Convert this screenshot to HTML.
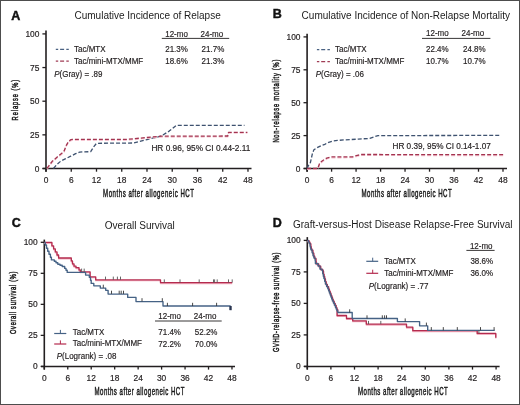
<!DOCTYPE html>
<html><head><meta charset="utf-8"><style>
html,body{margin:0;padding:0;background:#fff;}
body{width:520px;height:405px;overflow:hidden;font-family:"Liberation Sans", sans-serif;}
svg{display:block;will-change:transform;}
</style></head><body>
<svg width="520" height="405" viewBox="0 0 520 405" font-family='"Liberation Sans", sans-serif'>
<rect x="0" y="0" width="520" height="405" fill="#fff"/>
<rect x="0.5" y="0.5" width="519" height="404" fill="none" stroke="#4d4d4d" stroke-width="1"/>
<text transform="translate(11.20,20.30)" x="0" y="0" font-size="12.5" text-anchor="start" fill="#111" font-weight="bold"  stroke="#111" stroke-width="0.45">A</text>
<text transform="translate(74.50,18.80)" x="0" y="0" font-size="10" text-anchor="start" fill="#1c1c1c" font-weight="normal"  >Cumulative Incidence of Relapse</text>
<line x1="46.0" y1="30.4" x2="46.0" y2="171.7" stroke="#231f20" stroke-width="1.6"/>
<line x1="42.6" y1="168.5" x2="251.5" y2="168.5" stroke="#231f20" stroke-width="1.5"/>
<line x1="42.4" y1="168.50" x2="46.0" y2="168.50" stroke="#231f20" stroke-width="1.3"/>
<text transform="translate(39.40,171.50)" x="0" y="0" font-size="8.4" text-anchor="end" fill="#231f20" font-weight="normal" stroke="#231f20" stroke-width="0.18"  >0</text>
<line x1="42.4" y1="134.85" x2="46.0" y2="134.85" stroke="#231f20" stroke-width="1.3"/>
<text transform="translate(39.40,137.85)" x="0" y="0" font-size="8.4" text-anchor="end" fill="#231f20" font-weight="normal" stroke="#231f20" stroke-width="0.18"  >25</text>
<line x1="42.4" y1="101.20" x2="46.0" y2="101.20" stroke="#231f20" stroke-width="1.3"/>
<text transform="translate(39.40,104.20)" x="0" y="0" font-size="8.4" text-anchor="end" fill="#231f20" font-weight="normal" stroke="#231f20" stroke-width="0.18"  >50</text>
<line x1="42.4" y1="67.55" x2="46.0" y2="67.55" stroke="#231f20" stroke-width="1.3"/>
<text transform="translate(39.40,70.55)" x="0" y="0" font-size="8.4" text-anchor="end" fill="#231f20" font-weight="normal" stroke="#231f20" stroke-width="0.18"  >75</text>
<line x1="42.4" y1="33.90" x2="46.0" y2="33.90" stroke="#231f20" stroke-width="1.3"/>
<text transform="translate(39.40,36.90)" x="0" y="0" font-size="8.4" text-anchor="end" fill="#231f20" font-weight="normal" stroke="#231f20" stroke-width="0.18"  >100</text>
<line x1="46.00" y1="168.5" x2="46.00" y2="171.7" stroke="#231f20" stroke-width="1.3"/>
<text transform="translate(46.00,183.00)" x="0" y="0" font-size="8.4" text-anchor="middle" fill="#231f20" font-weight="normal" stroke="#231f20" stroke-width="0.18"  >0</text>
<line x1="71.25" y1="168.5" x2="71.25" y2="171.7" stroke="#231f20" stroke-width="1.3"/>
<text transform="translate(71.25,183.00)" x="0" y="0" font-size="8.4" text-anchor="middle" fill="#231f20" font-weight="normal" stroke="#231f20" stroke-width="0.18"  >6</text>
<line x1="96.50" y1="168.5" x2="96.50" y2="171.7" stroke="#231f20" stroke-width="1.3"/>
<text transform="translate(96.50,183.00)" x="0" y="0" font-size="8.4" text-anchor="middle" fill="#231f20" font-weight="normal" stroke="#231f20" stroke-width="0.18"  >12</text>
<line x1="121.74" y1="168.5" x2="121.74" y2="171.7" stroke="#231f20" stroke-width="1.3"/>
<text transform="translate(121.74,183.00)" x="0" y="0" font-size="8.4" text-anchor="middle" fill="#231f20" font-weight="normal" stroke="#231f20" stroke-width="0.18"  >18</text>
<line x1="146.99" y1="168.5" x2="146.99" y2="171.7" stroke="#231f20" stroke-width="1.3"/>
<text transform="translate(146.99,183.00)" x="0" y="0" font-size="8.4" text-anchor="middle" fill="#231f20" font-weight="normal" stroke="#231f20" stroke-width="0.18"  >24</text>
<line x1="172.24" y1="168.5" x2="172.24" y2="171.7" stroke="#231f20" stroke-width="1.3"/>
<text transform="translate(172.24,183.00)" x="0" y="0" font-size="8.4" text-anchor="middle" fill="#231f20" font-weight="normal" stroke="#231f20" stroke-width="0.18"  >30</text>
<line x1="197.49" y1="168.5" x2="197.49" y2="171.7" stroke="#231f20" stroke-width="1.3"/>
<text transform="translate(197.49,183.00)" x="0" y="0" font-size="8.4" text-anchor="middle" fill="#231f20" font-weight="normal" stroke="#231f20" stroke-width="0.18"  >36</text>
<line x1="222.74" y1="168.5" x2="222.74" y2="171.7" stroke="#231f20" stroke-width="1.3"/>
<text transform="translate(222.74,183.00)" x="0" y="0" font-size="8.4" text-anchor="middle" fill="#231f20" font-weight="normal" stroke="#231f20" stroke-width="0.18"  >42</text>
<line x1="247.98" y1="168.5" x2="247.98" y2="171.7" stroke="#231f20" stroke-width="1.3"/>
<text transform="translate(247.98,183.00)" x="0" y="0" font-size="8.4" text-anchor="middle" fill="#231f20" font-weight="normal" stroke="#231f20" stroke-width="0.18"  >48</text>
<text transform="translate(103.1,197.3) scale(0.58,1)" x="0" y="0" font-size="10.5" fill="#1a1a1a" stroke="#1a1a1a" stroke-width="0.48" textLength="156.72" lengthAdjust="spacing">Months after allogeneic HCT</text>
<text transform="translate(18.4,120.4) rotate(-90) scale(0.58,1)" x="0" y="0" font-size="9.9" fill="#1a1a1a" stroke="#1a1a1a" stroke-width="0.5" textLength="70.00" lengthAdjust="spacing">Relapse (%)</text>
<line x1="55.8" y1="49.3" x2="68.8" y2="49.3" stroke="#4a6282" stroke-width="1.2" stroke-dasharray="2.4 1.9 4 2.2 2.5"/>
<line x1="55.8" y1="61.2" x2="68.8" y2="61.2" stroke="#a03c55" stroke-width="1.2" stroke-dasharray="2.4 1.9 4 2.2 2.5"/>
<text transform="translate(74.00,51.60) scale(0.9195,1)" x="0" y="0" font-size="8.7" text-anchor="start" fill="#231f20" font-weight="normal" stroke="#231f20" stroke-width="0.18"  >Tac/MTX</text>
<text transform="translate(74.00,63.50) scale(0.9195,1)" x="0" y="0" font-size="8.7" text-anchor="start" fill="#231f20" font-weight="normal" stroke="#231f20" stroke-width="0.18"  >Tac/mini-MTX/MMF</text>
<text transform="translate(54.20,76.50) scale(0.9195,1)" x="0" y="0" font-size="8.7" text-anchor="start" fill="#231f20" font-weight="normal" stroke="#231f20" stroke-width="0.18"  ><tspan font-style="italic">P</tspan>(Gray) = .89</text>
<text transform="translate(165.20,36.80) scale(0.9195,1)" x="0" y="0" font-size="8.7" text-anchor="start" fill="#231f20" font-weight="normal" stroke="#231f20" stroke-width="0.18"  >12-mo</text>
<text transform="translate(200.50,36.80) scale(0.9195,1)" x="0" y="0" font-size="8.7" text-anchor="start" fill="#231f20" font-weight="normal" stroke="#231f20" stroke-width="0.18"  >24-mo</text>
<line x1="161.8" y1="38.4" x2="229.2" y2="38.4" stroke="#231f20" stroke-width="0.9"/>
<text transform="translate(165.20,51.80) scale(0.9195,1)" x="0" y="0" font-size="8.7" text-anchor="start" fill="#231f20" font-weight="normal" stroke="#231f20" stroke-width="0.18"  >21.3%</text>
<text transform="translate(201.60,51.80) scale(0.9195,1)" x="0" y="0" font-size="8.7" text-anchor="start" fill="#231f20" font-weight="normal" stroke="#231f20" stroke-width="0.18"  >21.7%</text>
<text transform="translate(165.20,63.50) scale(0.9195,1)" x="0" y="0" font-size="8.7" text-anchor="start" fill="#231f20" font-weight="normal" stroke="#231f20" stroke-width="0.18"  >18.6%</text>
<text transform="translate(201.60,63.50) scale(0.9195,1)" x="0" y="0" font-size="8.7" text-anchor="start" fill="#231f20" font-weight="normal" stroke="#231f20" stroke-width="0.18"  >21.3%</text>
<text transform="translate(250.40,151.30) scale(0.9540,1)" x="0" y="0" font-size="8.7" text-anchor="end" fill="#231f20" font-weight="normal" stroke="#231f20" stroke-width="0.18"  >HR 0.96, 95% CI 0.44-2.11</text>
<polyline points="53.50,168.50 56.80,164.60 60.80,161.10 65.70,158.70 70.70,156.20 75.60,153.70 79.60,152.20 83.50,151.80 90.70,151.70 93.40,147.20 96.20,143.70 98.00,143.30 133.80,143.00 147.00,139.60 161.10,136.10 169.20,131.10 176.30,125.40 244.50,125.40" fill="none" stroke="#3e5270" stroke-width="1.3" stroke-dasharray="4 2" stroke-linejoin="round"/>
<polyline transform="translate(0,0.9)" points="47.00,168.30 52.00,161.60 57.50,156.70 61.50,153.60 64.20,150.80 66.30,145.30 68.50,141.50 71.00,139.60 72.50,139.40 126.00,139.40 161.10,136.20 227.70,136.00 228.50,132.30 247.40,132.30" fill="none" stroke="#f5c4d0" stroke-width="1.3" stroke-dasharray="4 2" stroke-linejoin="round"/>
<polyline points="47.00,168.30 52.00,161.60 57.50,156.70 61.50,153.60 64.20,150.80 66.30,145.30 68.50,141.50 71.00,139.60 72.50,139.40 126.00,139.40 161.10,136.20 227.70,136.00 228.50,132.30 247.40,132.30" fill="none" stroke="#a33450" stroke-width="1.3" stroke-dasharray="4 2" stroke-linejoin="round"/>
<text transform="translate(272.70,18.10)" x="0" y="0" font-size="12.5" text-anchor="start" fill="#111" font-weight="bold"  stroke="#111" stroke-width="0.45">B</text>
<text transform="translate(301.60,18.80)" x="0" y="0" font-size="10" text-anchor="start" fill="#1c1c1c" font-weight="normal"  >Cumulative Incidence of Non-Relapse Mortality</text>
<line x1="307.1" y1="33.8" x2="307.1" y2="171.7" stroke="#231f20" stroke-width="1.6"/>
<line x1="303.70000000000005" y1="168.5" x2="507.0" y2="168.5" stroke="#231f20" stroke-width="1.5"/>
<line x1="303.5" y1="168.50" x2="307.1" y2="168.50" stroke="#231f20" stroke-width="1.3"/>
<text transform="translate(300.50,171.50)" x="0" y="0" font-size="8.4" text-anchor="end" fill="#231f20" font-weight="normal" stroke="#231f20" stroke-width="0.18"  >0</text>
<line x1="303.5" y1="135.60" x2="307.1" y2="135.60" stroke="#231f20" stroke-width="1.3"/>
<text transform="translate(300.50,138.60)" x="0" y="0" font-size="8.4" text-anchor="end" fill="#231f20" font-weight="normal" stroke="#231f20" stroke-width="0.18"  >25</text>
<line x1="303.5" y1="102.70" x2="307.1" y2="102.70" stroke="#231f20" stroke-width="1.3"/>
<text transform="translate(300.50,105.70)" x="0" y="0" font-size="8.4" text-anchor="end" fill="#231f20" font-weight="normal" stroke="#231f20" stroke-width="0.18"  >50</text>
<line x1="303.5" y1="69.80" x2="307.1" y2="69.80" stroke="#231f20" stroke-width="1.3"/>
<text transform="translate(300.50,72.80)" x="0" y="0" font-size="8.4" text-anchor="end" fill="#231f20" font-weight="normal" stroke="#231f20" stroke-width="0.18"  >75</text>
<line x1="303.5" y1="36.90" x2="307.1" y2="36.90" stroke="#231f20" stroke-width="1.3"/>
<text transform="translate(300.50,39.90)" x="0" y="0" font-size="8.4" text-anchor="end" fill="#231f20" font-weight="normal" stroke="#231f20" stroke-width="0.18"  >100</text>
<line x1="307.10" y1="168.5" x2="307.10" y2="171.7" stroke="#231f20" stroke-width="1.3"/>
<text transform="translate(307.10,182.80)" x="0" y="0" font-size="8.4" text-anchor="middle" fill="#231f20" font-weight="normal" stroke="#231f20" stroke-width="0.18"  >0</text>
<line x1="331.59" y1="168.5" x2="331.59" y2="171.7" stroke="#231f20" stroke-width="1.3"/>
<text transform="translate(331.59,182.80)" x="0" y="0" font-size="8.4" text-anchor="middle" fill="#231f20" font-weight="normal" stroke="#231f20" stroke-width="0.18"  >6</text>
<line x1="356.07" y1="168.5" x2="356.07" y2="171.7" stroke="#231f20" stroke-width="1.3"/>
<text transform="translate(356.07,182.80)" x="0" y="0" font-size="8.4" text-anchor="middle" fill="#231f20" font-weight="normal" stroke="#231f20" stroke-width="0.18"  >12</text>
<line x1="380.56" y1="168.5" x2="380.56" y2="171.7" stroke="#231f20" stroke-width="1.3"/>
<text transform="translate(380.56,182.80)" x="0" y="0" font-size="8.4" text-anchor="middle" fill="#231f20" font-weight="normal" stroke="#231f20" stroke-width="0.18"  >18</text>
<line x1="405.04" y1="168.5" x2="405.04" y2="171.7" stroke="#231f20" stroke-width="1.3"/>
<text transform="translate(405.04,182.80)" x="0" y="0" font-size="8.4" text-anchor="middle" fill="#231f20" font-weight="normal" stroke="#231f20" stroke-width="0.18"  >24</text>
<line x1="429.53" y1="168.5" x2="429.53" y2="171.7" stroke="#231f20" stroke-width="1.3"/>
<text transform="translate(429.53,182.80)" x="0" y="0" font-size="8.4" text-anchor="middle" fill="#231f20" font-weight="normal" stroke="#231f20" stroke-width="0.18"  >30</text>
<line x1="454.02" y1="168.5" x2="454.02" y2="171.7" stroke="#231f20" stroke-width="1.3"/>
<text transform="translate(454.02,182.80)" x="0" y="0" font-size="8.4" text-anchor="middle" fill="#231f20" font-weight="normal" stroke="#231f20" stroke-width="0.18"  >36</text>
<line x1="478.50" y1="168.5" x2="478.50" y2="171.7" stroke="#231f20" stroke-width="1.3"/>
<text transform="translate(478.50,182.80)" x="0" y="0" font-size="8.4" text-anchor="middle" fill="#231f20" font-weight="normal" stroke="#231f20" stroke-width="0.18"  >42</text>
<line x1="502.99" y1="168.5" x2="502.99" y2="171.7" stroke="#231f20" stroke-width="1.3"/>
<text transform="translate(502.99,182.80)" x="0" y="0" font-size="8.4" text-anchor="middle" fill="#231f20" font-weight="normal" stroke="#231f20" stroke-width="0.18"  >48</text>
<text transform="translate(361.5,197.3) scale(0.58,1)" x="0" y="0" font-size="10.5" fill="#1a1a1a" stroke="#1a1a1a" stroke-width="0.48" textLength="155.52" lengthAdjust="spacing">Months after allogeneic HCT</text>
<text transform="translate(279.2,142.6) rotate(-90) scale(0.58,1)" x="0" y="0" font-size="9.9" fill="#1a1a1a" stroke="#1a1a1a" stroke-width="0.5" textLength="142.93" lengthAdjust="spacing">Non-relapse mortality (%)</text>
<line x1="316.9" y1="49.6" x2="329.9" y2="49.6" stroke="#4a6282" stroke-width="1.2" stroke-dasharray="2.4 1.9 4 2.2 2.5"/>
<line x1="316.9" y1="61.6" x2="329.9" y2="61.6" stroke="#a03c55" stroke-width="1.2" stroke-dasharray="2.4 1.9 4 2.2 2.5"/>
<text transform="translate(335.10,51.90) scale(0.9195,1)" x="0" y="0" font-size="8.7" text-anchor="start" fill="#231f20" font-weight="normal" stroke="#231f20" stroke-width="0.18"  >Tac/MTX</text>
<text transform="translate(335.10,63.90) scale(0.9195,1)" x="0" y="0" font-size="8.7" text-anchor="start" fill="#231f20" font-weight="normal" stroke="#231f20" stroke-width="0.18"  >Tac/mini-MTX/MMF</text>
<text transform="translate(315.70,76.60) scale(0.9195,1)" x="0" y="0" font-size="8.7" text-anchor="start" fill="#231f20" font-weight="normal" stroke="#231f20" stroke-width="0.18"  ><tspan font-style="italic">P</tspan>(Gray) = .06</text>
<text transform="translate(426.00,36.30) scale(0.9195,1)" x="0" y="0" font-size="8.7" text-anchor="start" fill="#231f20" font-weight="normal" stroke="#231f20" stroke-width="0.18"  >12-mo</text>
<text transform="translate(461.50,36.30) scale(0.9195,1)" x="0" y="0" font-size="8.7" text-anchor="start" fill="#231f20" font-weight="normal" stroke="#231f20" stroke-width="0.18"  >24-mo</text>
<line x1="422" y1="38.4" x2="490.4" y2="38.4" stroke="#231f20" stroke-width="0.9"/>
<text transform="translate(426.00,51.70) scale(0.9195,1)" x="0" y="0" font-size="8.7" text-anchor="start" fill="#231f20" font-weight="normal" stroke="#231f20" stroke-width="0.18"  >22.4%</text>
<text transform="translate(463.00,51.70) scale(0.9195,1)" x="0" y="0" font-size="8.7" text-anchor="start" fill="#231f20" font-weight="normal" stroke="#231f20" stroke-width="0.18"  >24.8%</text>
<text transform="translate(426.00,63.80) scale(0.9195,1)" x="0" y="0" font-size="8.7" text-anchor="start" fill="#231f20" font-weight="normal" stroke="#231f20" stroke-width="0.18"  >10.7%</text>
<text transform="translate(463.00,63.80) scale(0.9195,1)" x="0" y="0" font-size="8.7" text-anchor="start" fill="#231f20" font-weight="normal" stroke="#231f20" stroke-width="0.18"  >10.7%</text>
<text transform="translate(490.80,149.10) scale(0.9425,1)" x="0" y="0" font-size="8.7" text-anchor="end" fill="#231f20" font-weight="normal" stroke="#231f20" stroke-width="0.18"  >HR 0.39, 95% CI 0.14-1.07</text>
<polyline points="307.10,168.50 308.50,165.50 310.40,162.60 312.40,153.70 313.90,149.80 316.90,147.80 320.80,145.80 324.80,144.30 328.70,142.30 332.70,141.10 337.60,140.40 344.50,139.90 358.30,139.10 369.80,138.40 375.10,136.50 378.00,135.60 500.60,135.40" fill="none" stroke="#3e5270" stroke-width="1.3" stroke-dasharray="4 2" stroke-linejoin="round"/>
<polyline transform="translate(0,0.9)" points="307.10,168.50 317.80,168.50 319.80,162.80 322.80,160.50 326.70,158.10 330.70,156.90 352.50,156.80 357.30,155.40 361.60,154.50 503.90,154.70" fill="none" stroke="#f5c4d0" stroke-width="1.3" stroke-dasharray="4 2" stroke-linejoin="round"/>
<polyline points="307.10,168.50 317.80,168.50 319.80,162.80 322.80,160.50 326.70,158.10 330.70,156.90 352.50,156.80 357.30,155.40 361.60,154.50 503.90,154.70" fill="none" stroke="#a33450" stroke-width="1.3" stroke-dasharray="4 2" stroke-linejoin="round"/>
<text transform="translate(11.70,227.40)" x="0" y="0" font-size="12.5" text-anchor="start" fill="#111" font-weight="bold"  stroke="#111" stroke-width="0.45">C</text>
<text transform="translate(104.80,228.50)" x="0" y="0" font-size="10" text-anchor="start" fill="#1c1c1c" font-weight="normal"  >Overall Survival</text>
<line x1="44.3" y1="239.6" x2="44.3" y2="369.59999999999997" stroke="#231f20" stroke-width="1.6"/>
<line x1="40.9" y1="366.4" x2="235.0" y2="366.4" stroke="#231f20" stroke-width="1.5"/>
<line x1="40.699999999999996" y1="366.40" x2="44.3" y2="366.40" stroke="#231f20" stroke-width="1.3"/>
<text transform="translate(37.70,369.40)" x="0" y="0" font-size="8.4" text-anchor="end" fill="#231f20" font-weight="normal" stroke="#231f20" stroke-width="0.18"  >0</text>
<line x1="40.699999999999996" y1="335.38" x2="44.3" y2="335.38" stroke="#231f20" stroke-width="1.3"/>
<text transform="translate(37.70,338.38)" x="0" y="0" font-size="8.4" text-anchor="end" fill="#231f20" font-weight="normal" stroke="#231f20" stroke-width="0.18"  >25</text>
<line x1="40.699999999999996" y1="304.35" x2="44.3" y2="304.35" stroke="#231f20" stroke-width="1.3"/>
<text transform="translate(37.70,307.35)" x="0" y="0" font-size="8.4" text-anchor="end" fill="#231f20" font-weight="normal" stroke="#231f20" stroke-width="0.18"  >50</text>
<line x1="40.699999999999996" y1="273.32" x2="44.3" y2="273.32" stroke="#231f20" stroke-width="1.3"/>
<text transform="translate(37.70,276.32)" x="0" y="0" font-size="8.4" text-anchor="end" fill="#231f20" font-weight="normal" stroke="#231f20" stroke-width="0.18"  >75</text>
<line x1="40.699999999999996" y1="242.30" x2="44.3" y2="242.30" stroke="#231f20" stroke-width="1.3"/>
<text transform="translate(37.70,245.30)" x="0" y="0" font-size="8.4" text-anchor="end" fill="#231f20" font-weight="normal" stroke="#231f20" stroke-width="0.18"  >100</text>
<line x1="44.30" y1="366.4" x2="44.30" y2="369.59999999999997" stroke="#231f20" stroke-width="1.3"/>
<text transform="translate(44.30,380.60)" x="0" y="0" font-size="8.4" text-anchor="middle" fill="#231f20" font-weight="normal" stroke="#231f20" stroke-width="0.18"  >0</text>
<line x1="67.76" y1="366.4" x2="67.76" y2="369.59999999999997" stroke="#231f20" stroke-width="1.3"/>
<text transform="translate(67.76,380.60)" x="0" y="0" font-size="8.4" text-anchor="middle" fill="#231f20" font-weight="normal" stroke="#231f20" stroke-width="0.18"  >6</text>
<line x1="91.22" y1="366.4" x2="91.22" y2="369.59999999999997" stroke="#231f20" stroke-width="1.3"/>
<text transform="translate(91.22,380.60)" x="0" y="0" font-size="8.4" text-anchor="middle" fill="#231f20" font-weight="normal" stroke="#231f20" stroke-width="0.18"  >12</text>
<line x1="114.68" y1="366.4" x2="114.68" y2="369.59999999999997" stroke="#231f20" stroke-width="1.3"/>
<text transform="translate(114.68,380.60)" x="0" y="0" font-size="8.4" text-anchor="middle" fill="#231f20" font-weight="normal" stroke="#231f20" stroke-width="0.18"  >18</text>
<line x1="138.14" y1="366.4" x2="138.14" y2="369.59999999999997" stroke="#231f20" stroke-width="1.3"/>
<text transform="translate(138.14,380.60)" x="0" y="0" font-size="8.4" text-anchor="middle" fill="#231f20" font-weight="normal" stroke="#231f20" stroke-width="0.18"  >24</text>
<line x1="161.60" y1="366.4" x2="161.60" y2="369.59999999999997" stroke="#231f20" stroke-width="1.3"/>
<text transform="translate(161.60,380.60)" x="0" y="0" font-size="8.4" text-anchor="middle" fill="#231f20" font-weight="normal" stroke="#231f20" stroke-width="0.18"  >30</text>
<line x1="185.06" y1="366.4" x2="185.06" y2="369.59999999999997" stroke="#231f20" stroke-width="1.3"/>
<text transform="translate(185.06,380.60)" x="0" y="0" font-size="8.4" text-anchor="middle" fill="#231f20" font-weight="normal" stroke="#231f20" stroke-width="0.18"  >36</text>
<line x1="208.52" y1="366.4" x2="208.52" y2="369.59999999999997" stroke="#231f20" stroke-width="1.3"/>
<text transform="translate(208.52,380.60)" x="0" y="0" font-size="8.4" text-anchor="middle" fill="#231f20" font-weight="normal" stroke="#231f20" stroke-width="0.18"  >42</text>
<line x1="231.98" y1="366.4" x2="231.98" y2="369.59999999999997" stroke="#231f20" stroke-width="1.3"/>
<text transform="translate(231.98,380.60)" x="0" y="0" font-size="8.4" text-anchor="middle" fill="#231f20" font-weight="normal" stroke="#231f20" stroke-width="0.18"  >48</text>
<text transform="translate(94.5,394.8) scale(0.58,1)" x="0" y="0" font-size="10.5" fill="#1a1a1a" stroke="#1a1a1a" stroke-width="0.48" textLength="155.00" lengthAdjust="spacing">Months after allogeneic HCT</text>
<text transform="translate(16.2,334.0) rotate(-90) scale(0.58,1)" x="0" y="0" font-size="9.9" fill="#1a1a1a" stroke="#1a1a1a" stroke-width="0.5" textLength="107.59" lengthAdjust="spacing">Overall survival (%)</text>
<line x1="54.2" y1="333.5" x2="66.3" y2="333.5" stroke="#456285" stroke-width="1.2"/>
<line x1="60.4" y1="329.9" x2="60.4" y2="333.5" stroke="#456285" stroke-width="1"/>
<line x1="54.2" y1="344.0" x2="66.3" y2="344.0" stroke="#b42b4e" stroke-width="1.2"/>
<line x1="60.4" y1="340.4" x2="60.4" y2="344.0" stroke="#b42b4e" stroke-width="1"/>
<text transform="translate(72.70,334.90) scale(0.9195,1)" x="0" y="0" font-size="8.7" text-anchor="start" fill="#231f20" font-weight="normal" stroke="#231f20" stroke-width="0.18"  >Tac/MTX</text>
<text transform="translate(72.70,346.10) scale(0.9195,1)" x="0" y="0" font-size="8.7" text-anchor="start" fill="#231f20" font-weight="normal" stroke="#231f20" stroke-width="0.18"  >Tac/mini-MTX/MMF</text>
<text transform="translate(56.70,359.40) scale(0.9195,1)" x="0" y="0" font-size="8.7" text-anchor="start" fill="#231f20" font-weight="normal" stroke="#231f20" stroke-width="0.18"  ><tspan font-style="italic">P</tspan>(Logrank) = .08</text>
<text transform="translate(158.30,319.40) scale(0.9195,1)" x="0" y="0" font-size="8.7" text-anchor="start" fill="#231f20" font-weight="normal" stroke="#231f20" stroke-width="0.18"  >12-mo</text>
<text transform="translate(193.80,319.40) scale(0.9195,1)" x="0" y="0" font-size="8.7" text-anchor="start" fill="#231f20" font-weight="normal" stroke="#231f20" stroke-width="0.18"  >24-mo</text>
<line x1="155" y1="321.0" x2="221.7" y2="321.0" stroke="#231f20" stroke-width="0.9"/>
<text transform="translate(158.30,334.80) scale(0.9195,1)" x="0" y="0" font-size="8.7" text-anchor="start" fill="#231f20" font-weight="normal" stroke="#231f20" stroke-width="0.18"  >71.4%</text>
<text transform="translate(194.80,334.80) scale(0.9195,1)" x="0" y="0" font-size="8.7" text-anchor="start" fill="#231f20" font-weight="normal" stroke="#231f20" stroke-width="0.18"  >52.2%</text>
<text transform="translate(158.30,346.90) scale(0.9195,1)" x="0" y="0" font-size="8.7" text-anchor="start" fill="#231f20" font-weight="normal" stroke="#231f20" stroke-width="0.18"  >72.2%</text>
<text transform="translate(194.80,346.90) scale(0.9195,1)" x="0" y="0" font-size="8.7" text-anchor="start" fill="#231f20" font-weight="normal" stroke="#231f20" stroke-width="0.18"  >70.0%</text>
<polyline transform="translate(0,0.9)" points="44.30,242.40 51.90,242.40 51.90,245.80 53.60,245.80 53.60,248.90 55.30,248.90 55.30,251.90 57.00,251.90 57.00,255.00 58.60,255.00 58.60,258.00 71.30,258.00 71.30,260.90 72.50,260.90 72.50,263.90 74.00,263.90 74.00,266.20 76.00,266.20 76.00,267.70 79.00,267.70 79.00,269.90 80.30,269.90 80.30,271.80 90.10,271.80 90.10,276.80 95.70,276.80 95.70,279.80 160.50,279.80 160.50,282.60 232.20,282.60" fill="none" stroke="#f2b0c0" stroke-width="1.3" stroke-linejoin="round"/>
<polyline points="44.30,242.40 51.90,242.40 51.90,245.80 53.60,245.80 53.60,248.90 55.30,248.90 55.30,251.90 57.00,251.90 57.00,255.00 58.60,255.00 58.60,258.00 71.30,258.00 71.30,260.90 72.50,260.90 72.50,263.90 74.00,263.90 74.00,266.20 76.00,266.20 76.00,267.70 79.00,267.70 79.00,269.90 80.30,269.90 80.30,271.80 90.10,271.80 90.10,276.80 95.70,276.80 95.70,279.80 160.50,279.80 160.50,282.60 232.20,282.60" fill="none" stroke="#b42b4e" stroke-width="1.3" stroke-linejoin="round"/>
<polyline points="44.30,242.40 45.30,242.40 45.30,245.00 46.50,245.00 46.50,248.20 47.70,248.20 47.70,251.20 49.00,251.20 49.00,254.20 50.40,254.20 50.40,257.20 51.40,257.20 51.40,259.90 54.30,259.90 54.30,261.20 56.00,261.20 56.00,262.70 57.80,262.70 57.80,264.20 60.00,264.20 60.00,265.20 62.20,265.20 62.20,266.50 64.70,266.50 64.70,268.40 66.00,268.40 66.00,270.20 67.20,270.20 67.20,272.40 85.60,272.40 85.60,275.10 89.30,275.10 89.30,277.30 90.50,277.30 90.50,280.20 91.20,280.20 91.20,283.40 93.80,283.40 93.80,285.80 100.30,285.80 100.30,288.10 105.70,288.10 105.70,290.30 108.10,290.30 108.10,294.10 127.70,294.10 127.70,297.40 136.00,297.40 136.00,301.60 163.00,301.60 163.00,306.00 230.20,306.00 230.20,310.00" fill="none" stroke="#456285" stroke-width="1.35" stroke-linejoin="round"/>
<line x1="81.60" y1="268.60" x2="81.60" y2="271.80" stroke="#555" stroke-width="0.9"/>
<line x1="84.20" y1="268.60" x2="84.20" y2="271.80" stroke="#555" stroke-width="0.9"/>
<line x1="105.50" y1="276.60" x2="105.50" y2="279.80" stroke="#555" stroke-width="0.9"/>
<line x1="113.30" y1="276.60" x2="113.30" y2="279.80" stroke="#555" stroke-width="0.9"/>
<line x1="117.40" y1="276.60" x2="117.40" y2="279.80" stroke="#555" stroke-width="0.9"/>
<line x1="120.50" y1="276.60" x2="120.50" y2="279.80" stroke="#555" stroke-width="0.9"/>
<line x1="164.30" y1="279.40" x2="164.30" y2="282.60" stroke="#555" stroke-width="0.9"/>
<line x1="180.00" y1="279.40" x2="180.00" y2="282.60" stroke="#555" stroke-width="0.9"/>
<line x1="199.20" y1="279.40" x2="199.20" y2="282.60" stroke="#555" stroke-width="0.9"/>
<line x1="213.50" y1="279.40" x2="213.50" y2="282.60" stroke="#555" stroke-width="0.9"/>
<line x1="214.60" y1="279.40" x2="214.60" y2="282.60" stroke="#555" stroke-width="0.9"/>
<line x1="217.20" y1="279.40" x2="217.20" y2="282.60" stroke="#555" stroke-width="0.9"/>
<line x1="228.50" y1="279.40" x2="228.50" y2="282.60" stroke="#555" stroke-width="0.9"/>
<line x1="232.20" y1="279.40" x2="232.20" y2="282.60" stroke="#555" stroke-width="0.9"/>
<line x1="103.30" y1="284.70" x2="103.30" y2="287.90" stroke="#333" stroke-width="0.9"/>
<line x1="111.50" y1="290.70" x2="111.50" y2="293.90" stroke="#333" stroke-width="0.9"/>
<line x1="119.20" y1="290.70" x2="119.20" y2="293.90" stroke="#333" stroke-width="0.9"/>
<line x1="121.20" y1="290.70" x2="121.20" y2="293.90" stroke="#333" stroke-width="0.9"/>
<line x1="123.50" y1="290.70" x2="123.50" y2="293.90" stroke="#333" stroke-width="0.9"/>
<line x1="142.00" y1="298.20" x2="142.00" y2="301.40" stroke="#333" stroke-width="0.9"/>
<line x1="162.30" y1="298.20" x2="162.30" y2="301.40" stroke="#333" stroke-width="0.9"/>
<line x1="167.40" y1="302.80" x2="167.40" y2="306.00" stroke="#333" stroke-width="0.9"/>
<line x1="192.60" y1="302.80" x2="192.60" y2="306.00" stroke="#333" stroke-width="0.9"/>
<line x1="216.60" y1="302.80" x2="216.60" y2="306.00" stroke="#333" stroke-width="0.9"/>
<rect x="229.5" y="306" width="2.2" height="4.2" fill="#2a3550"/>
<text transform="translate(272.80,227.20)" x="0" y="0" font-size="12.5" text-anchor="start" fill="#111" font-weight="bold"  stroke="#111" stroke-width="0.45">D</text>
<text transform="translate(293.00,228.20)" x="0" y="0" font-size="10" text-anchor="start" fill="#1c1c1c" font-weight="normal"  >Graft-versus-Host Disease Relapse-Free Survival</text>
<line x1="307.3" y1="237.1" x2="307.3" y2="369.59999999999997" stroke="#231f20" stroke-width="1.6"/>
<line x1="303.90000000000003" y1="366.4" x2="499.6" y2="366.4" stroke="#231f20" stroke-width="1.5"/>
<line x1="303.7" y1="366.40" x2="307.3" y2="366.40" stroke="#231f20" stroke-width="1.3"/>
<text transform="translate(300.70,369.40)" x="0" y="0" font-size="8.4" text-anchor="end" fill="#231f20" font-weight="normal" stroke="#231f20" stroke-width="0.18"  >0</text>
<line x1="303.7" y1="334.90" x2="307.3" y2="334.90" stroke="#231f20" stroke-width="1.3"/>
<text transform="translate(300.70,337.90)" x="0" y="0" font-size="8.4" text-anchor="end" fill="#231f20" font-weight="normal" stroke="#231f20" stroke-width="0.18"  >25</text>
<line x1="303.7" y1="303.40" x2="307.3" y2="303.40" stroke="#231f20" stroke-width="1.3"/>
<text transform="translate(300.70,306.40)" x="0" y="0" font-size="8.4" text-anchor="end" fill="#231f20" font-weight="normal" stroke="#231f20" stroke-width="0.18"  >50</text>
<line x1="303.7" y1="271.90" x2="307.3" y2="271.90" stroke="#231f20" stroke-width="1.3"/>
<text transform="translate(300.70,274.90)" x="0" y="0" font-size="8.4" text-anchor="end" fill="#231f20" font-weight="normal" stroke="#231f20" stroke-width="0.18"  >75</text>
<line x1="303.7" y1="240.40" x2="307.3" y2="240.40" stroke="#231f20" stroke-width="1.3"/>
<text transform="translate(300.70,243.40)" x="0" y="0" font-size="8.4" text-anchor="end" fill="#231f20" font-weight="normal" stroke="#231f20" stroke-width="0.18"  >100</text>
<line x1="307.30" y1="366.4" x2="307.30" y2="369.59999999999997" stroke="#231f20" stroke-width="1.3"/>
<text transform="translate(307.30,380.80)" x="0" y="0" font-size="8.4" text-anchor="middle" fill="#231f20" font-weight="normal" stroke="#231f20" stroke-width="0.18"  >0</text>
<line x1="330.90" y1="366.4" x2="330.90" y2="369.59999999999997" stroke="#231f20" stroke-width="1.3"/>
<text transform="translate(330.90,380.80)" x="0" y="0" font-size="8.4" text-anchor="middle" fill="#231f20" font-weight="normal" stroke="#231f20" stroke-width="0.18"  >6</text>
<line x1="354.50" y1="366.4" x2="354.50" y2="369.59999999999997" stroke="#231f20" stroke-width="1.3"/>
<text transform="translate(354.50,380.80)" x="0" y="0" font-size="8.4" text-anchor="middle" fill="#231f20" font-weight="normal" stroke="#231f20" stroke-width="0.18"  >12</text>
<line x1="378.09" y1="366.4" x2="378.09" y2="369.59999999999997" stroke="#231f20" stroke-width="1.3"/>
<text transform="translate(378.09,380.80)" x="0" y="0" font-size="8.4" text-anchor="middle" fill="#231f20" font-weight="normal" stroke="#231f20" stroke-width="0.18"  >18</text>
<line x1="401.69" y1="366.4" x2="401.69" y2="369.59999999999997" stroke="#231f20" stroke-width="1.3"/>
<text transform="translate(401.69,380.80)" x="0" y="0" font-size="8.4" text-anchor="middle" fill="#231f20" font-weight="normal" stroke="#231f20" stroke-width="0.18"  >24</text>
<line x1="425.29" y1="366.4" x2="425.29" y2="369.59999999999997" stroke="#231f20" stroke-width="1.3"/>
<text transform="translate(425.29,380.80)" x="0" y="0" font-size="8.4" text-anchor="middle" fill="#231f20" font-weight="normal" stroke="#231f20" stroke-width="0.18"  >30</text>
<line x1="448.89" y1="366.4" x2="448.89" y2="369.59999999999997" stroke="#231f20" stroke-width="1.3"/>
<text transform="translate(448.89,380.80)" x="0" y="0" font-size="8.4" text-anchor="middle" fill="#231f20" font-weight="normal" stroke="#231f20" stroke-width="0.18"  >36</text>
<line x1="472.49" y1="366.4" x2="472.49" y2="369.59999999999997" stroke="#231f20" stroke-width="1.3"/>
<text transform="translate(472.49,380.80)" x="0" y="0" font-size="8.4" text-anchor="middle" fill="#231f20" font-weight="normal" stroke="#231f20" stroke-width="0.18"  >42</text>
<line x1="496.08" y1="366.4" x2="496.08" y2="369.59999999999997" stroke="#231f20" stroke-width="1.3"/>
<text transform="translate(496.08,380.80)" x="0" y="0" font-size="8.4" text-anchor="middle" fill="#231f20" font-weight="normal" stroke="#231f20" stroke-width="0.18"  >48</text>
<text transform="translate(358.0,395.3) scale(0.58,1)" x="0" y="0" font-size="10.5" fill="#1a1a1a" stroke="#1a1a1a" stroke-width="0.48" textLength="154.83" lengthAdjust="spacing">Months after allogeneic HCT</text>
<text transform="translate(279.0,352.1) rotate(-90) scale(0.58,1)" x="0" y="0" font-size="9.9" fill="#1a1a1a" stroke="#1a1a1a" stroke-width="0.5" textLength="171.72" lengthAdjust="spacing">GVHD-relapse-free survival (%)</text>
<line x1="366.3" y1="261.3" x2="378.2" y2="261.3" stroke="#456285" stroke-width="1.2"/>
<line x1="372.7" y1="257.7" x2="372.7" y2="261.3" stroke="#456285" stroke-width="1"/>
<line x1="366.3" y1="273.3" x2="378.2" y2="273.3" stroke="#b42b4e" stroke-width="1.2"/>
<line x1="372.7" y1="269.7" x2="372.7" y2="273.3" stroke="#b42b4e" stroke-width="1"/>
<text transform="translate(384.20,263.80) scale(0.9195,1)" x="0" y="0" font-size="8.7" text-anchor="start" fill="#231f20" font-weight="normal" stroke="#231f20" stroke-width="0.18"  >Tac/MTX</text>
<text transform="translate(384.20,275.60) scale(0.9195,1)" x="0" y="0" font-size="8.7" text-anchor="start" fill="#231f20" font-weight="normal" stroke="#231f20" stroke-width="0.18"  >Tac/mini-MTX/MMF</text>
<text transform="translate(368.70,288.80) scale(0.9195,1)" x="0" y="0" font-size="8.7" text-anchor="start" fill="#231f20" font-weight="normal" stroke="#231f20" stroke-width="0.18"  ><tspan font-style="italic">P</tspan>(Logrank) = .77</text>
<text transform="translate(469.90,248.80) scale(0.9195,1)" x="0" y="0" font-size="8.7" text-anchor="start" fill="#231f20" font-weight="normal" stroke="#231f20" stroke-width="0.18"  >12-mo</text>
<line x1="466.4" y1="250.4" x2="494.6" y2="250.4" stroke="#231f20" stroke-width="0.9"/>
<text transform="translate(470.40,263.80) scale(0.9195,1)" x="0" y="0" font-size="8.7" text-anchor="start" fill="#231f20" font-weight="normal" stroke="#231f20" stroke-width="0.18"  >38.6%</text>
<text transform="translate(470.40,275.60) scale(0.9195,1)" x="0" y="0" font-size="8.7" text-anchor="start" fill="#231f20" font-weight="normal" stroke="#231f20" stroke-width="0.18"  >36.0%</text>
<polyline transform="translate(0,0.9)" points="307.30,240.70 309.10,240.70 309.10,242.10 309.90,242.10 309.90,243.60 310.80,243.60 310.80,246.60 311.25,246.60 311.25,248.35 311.70,248.35 311.70,250.10 312.90,250.10 312.90,253.10 313.80,253.10 313.80,256.10 314.70,256.10 314.70,258.40 316.00,258.40 316.00,261.30 316.20,261.30 316.20,263.80 318.70,263.80 318.70,266.20 320.70,266.20 320.70,269.40 322.80,269.40 322.80,270.90 323.50,270.90 323.50,274.10 324.10,274.10 324.10,276.50 324.70,276.50 324.70,278.90 325.45,278.90 325.45,281.65 326.20,281.65 326.20,284.40 327.40,284.40 327.40,286.75 328.60,286.75 328.60,289.10 329.40,289.10 329.40,291.17 330.20,291.17 330.20,293.23 331.00,293.23 331.00,295.30 331.73,295.30 331.73,297.27 332.47,297.27 332.47,299.23 333.20,299.23 333.20,301.20 334.20,301.20 334.20,303.33 335.20,303.33 335.20,305.47 336.20,305.47 336.20,307.60 336.95,307.60 336.95,309.35 337.70,309.35 337.70,311.10 337.10,310.80 337.10,315.50 346.50,315.50 346.50,318.50 352.70,318.50 352.70,320.80 366.30,320.80 366.30,324.10 406.50,324.10 406.50,327.10 412.80,327.10 412.80,330.70 477.20,330.70 477.20,333.40 495.80,333.40 495.80,337.70" fill="none" stroke="#f2b0c0" stroke-width="1.3" stroke-linejoin="round"/>
<polyline points="307.30,240.70 309.10,240.70 309.10,242.10 309.90,242.10 309.90,243.60 310.80,243.60 310.80,246.60 311.25,246.60 311.25,248.35 311.70,248.35 311.70,250.10 312.90,250.10 312.90,253.10 313.80,253.10 313.80,256.10 314.70,256.10 314.70,258.40 316.00,258.40 316.00,261.30 316.20,261.30 316.20,263.80 318.70,263.80 318.70,266.20 320.70,266.20 320.70,269.40 322.80,269.40 322.80,270.90 323.50,270.90 323.50,274.10 324.10,274.10 324.10,276.50 324.70,276.50 324.70,278.90 325.45,278.90 325.45,281.65 326.20,281.65 326.20,284.40 327.40,284.40 327.40,286.75 328.60,286.75 328.60,289.10 329.40,289.10 329.40,291.17 330.20,291.17 330.20,293.23 331.00,293.23 331.00,295.30 331.73,295.30 331.73,297.27 332.47,297.27 332.47,299.23 333.20,299.23 333.20,301.20 334.20,301.20 334.20,303.33 335.20,303.33 335.20,305.47 336.20,305.47 336.20,307.60 336.95,307.60 336.95,309.35 337.70,309.35 337.70,311.10 337.10,310.80 337.10,315.50 346.50,315.50 346.50,318.50 352.70,318.50 352.70,320.80 366.30,320.80 366.30,324.10 406.50,324.10 406.50,327.10 412.80,327.10 412.80,330.70 477.20,330.70 477.20,333.40 495.80,333.40 495.80,337.70" fill="none" stroke="#b42b4e" stroke-width="1.3" stroke-linejoin="round"/>
<polyline points="307.30,240.40 308.30,240.40 308.30,241.80 309.10,241.80 309.10,243.30 310.00,243.30 310.00,246.30 310.45,246.30 310.45,248.05 310.90,248.05 310.90,249.80 312.10,249.80 312.10,252.80 313.00,252.80 313.00,255.80 313.90,255.80 313.90,258.10 315.20,258.10 315.20,261.00 315.40,261.00 315.40,263.50 317.90,263.50 317.90,265.90 319.90,265.90 319.90,269.10 322.00,269.10 322.00,270.60 322.70,270.60 322.70,273.80 323.30,273.80 323.30,276.20 323.90,276.20 323.90,278.60 324.65,278.60 324.65,281.35 325.40,281.35 325.40,284.10 326.60,284.10 326.60,286.45 327.80,286.45 327.80,288.80 328.60,288.80 328.60,290.87 329.40,290.87 329.40,292.93 330.20,292.93 330.20,295.00 330.93,295.00 330.93,296.97 331.67,296.97 331.67,298.93 332.40,298.93 332.40,300.90 333.40,300.90 333.40,303.03 334.40,303.03 334.40,305.17 335.40,305.17 335.40,307.30 336.15,307.30 336.15,309.05 336.90,309.05 336.90,310.80 337.80,310.80 337.80,312.50 352.20,312.50 352.20,318.50 397.40,318.50 397.40,321.60 419.60,321.60 419.60,325.80 427.70,325.80 427.70,330.30 494.70,330.30" fill="none" stroke="#456285" stroke-width="1.35" stroke-linejoin="round"/>
<line x1="368.50" y1="320.90" x2="368.50" y2="324.10" stroke="#555" stroke-width="0.9"/>
<line x1="380.80" y1="320.90" x2="380.80" y2="324.10" stroke="#555" stroke-width="0.9"/>
<line x1="478.90" y1="330.20" x2="478.90" y2="333.40" stroke="#555" stroke-width="0.9"/>
<line x1="349.70" y1="309.30" x2="349.70" y2="312.50" stroke="#333" stroke-width="0.9"/>
<line x1="367.00" y1="315.30" x2="367.00" y2="318.50" stroke="#333" stroke-width="0.9"/>
<line x1="382.30" y1="315.30" x2="382.30" y2="318.50" stroke="#333" stroke-width="0.9"/>
<line x1="384.60" y1="315.30" x2="384.60" y2="318.50" stroke="#333" stroke-width="0.9"/>
<line x1="386.50" y1="315.30" x2="386.50" y2="318.50" stroke="#333" stroke-width="0.9"/>
<line x1="405.20" y1="318.40" x2="405.20" y2="321.60" stroke="#333" stroke-width="0.9"/>
<line x1="426.40" y1="322.60" x2="426.40" y2="325.80" stroke="#333" stroke-width="0.9"/>
<line x1="431.30" y1="327.10" x2="431.30" y2="330.30" stroke="#333" stroke-width="0.9"/>
<line x1="443.30" y1="327.10" x2="443.30" y2="330.30" stroke="#333" stroke-width="0.9"/>
<line x1="457.30" y1="327.10" x2="457.30" y2="330.30" stroke="#333" stroke-width="0.9"/>
<line x1="480.50" y1="327.10" x2="480.50" y2="330.30" stroke="#333" stroke-width="0.9"/>
<line x1="494.10" y1="327.10" x2="494.10" y2="330.30" stroke="#333" stroke-width="0.9"/>
</svg>
</body></html>
